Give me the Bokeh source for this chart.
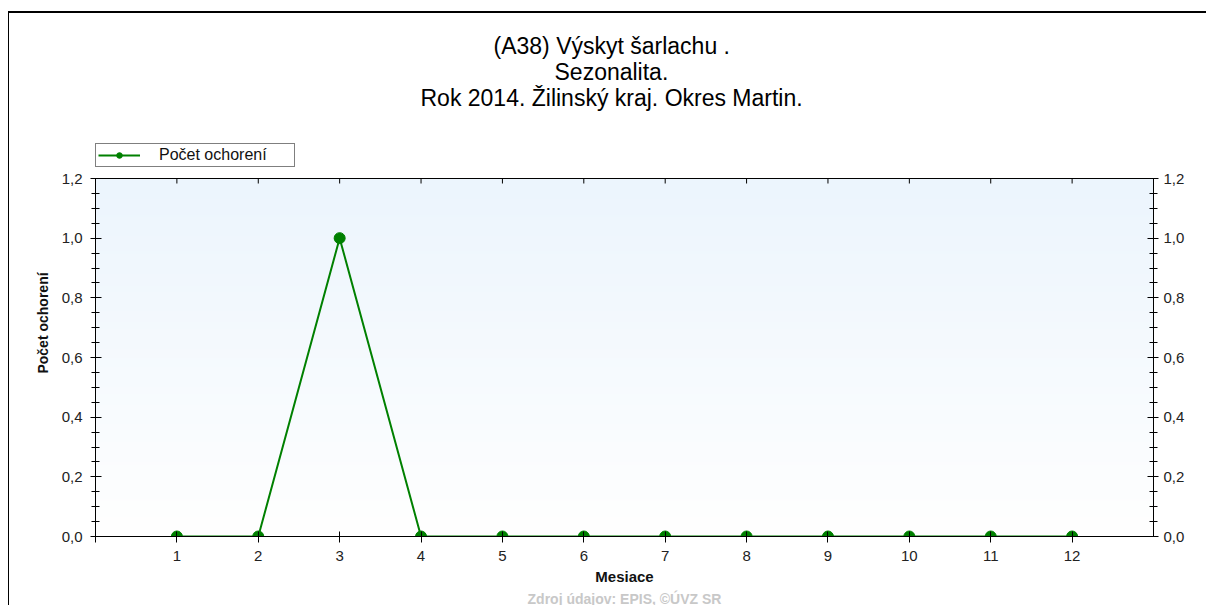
import numpy as np
from bokeh.plotting import figure
from bokeh.models import (LinearAxis, FixedTicker, CustomJSTickFormatter, Title,
                          Legend, LegendItem, Range1d, Span)
from bokeh.embed import file_html
from bokeh.resources import INLINE

# ---------------- data ----------------
months = [1, 2, 3, 4, 5, 6, 7, 8, 9, 10, 11, 12]
cases = [0, 0, 1, 0, 0, 0, 0, 0, 0, 0, 0, 0]
y_ticks = [0.0, 0.2, 0.4, 0.6, 0.8, 1.0, 1.2]
title_lines = ["(A38) Výskyt šarlachu .", "Sezonalita.", "Rok 2014. Žilinský kraj. Okres Martin."]
x_label = "Mesiace"
y_label = "Počet ochorení"
series_name = "Počet ochorení"
source_note = "Zdroj údajov: EPIS, ©ÚVZ SR"

FONT = "Liberation Sans"
GREEN = "#008000"

W, H = 1198, 594
PLOT_H = 358          # pixel height of the 0..1.2 plotting area
EXTRA_TOP = 69        # frame space above the plotting area (holds the legend)
FRAME_H = PLOT_H + EXTRA_TOP
y_lo, y_hi = y_ticks[0], y_ticks[-1]
y_view_end = y_lo + (y_hi - y_lo) * FRAME_H / PLOT_H

p = figure(width=W, height=H, output_backend="svg", toolbar_location=None,
           title=None, title_location=None,
           x_range=Range1d(months[0] - 1, months[-1] + 1),
           y_range=Range1d(y_lo, y_view_end),
           x_axis_location=None, y_axis_location=None,
           min_border_left=86, min_border_right=54,
           min_border_top=H - 71 - FRAME_H, min_border_bottom=71)
p.styles = {"margin-left": "8px", "margin-top": "11px",
            "border-top": "2px solid #000000", "border-left": "1px solid #000000"}
p.background_fill_color = "white"
p.border_fill_color = "white"
p.outline_line_color = None
p.grid.visible = False
p.xgrid.grid_line_color = None
p.ygrid.grid_line_color = None

# background gradient (light blue at top -> white at bottom) over the plotting area
n = 200
img = np.zeros((n, 1), dtype=np.uint32)
view = img.view(dtype=np.uint8).reshape((n, 1, 4))
top_rgb = np.array([236, 245, 253])
bot_rgb = np.array([255, 255, 255])
for i in range(n):
    t = i / (n - 1)
    c = bot_rgb + (top_rgb - bot_rgb) * t
    view[i, 0, 0:3] = c.astype(np.uint8)
    view[i, 0, 3] = 255
p.image_rgba(image=[img], x=p.x_range.start, y=y_lo,
             dw=p.x_range.end - p.x_range.start, dh=y_hi - y_lo)

# top edge of the plotting area with inward tick marks at the months
p.add_layout(Span(location=y_hi, dimension="width", line_color="black", line_width=1))
tick_len = 5 * (y_hi - y_lo) / PLOT_H
p.segment(x0=months, y0=[y_hi] * len(months), x1=months,
          y1=[y_hi - tick_len] * len(months), line_color="black", line_width=1)

# data
line_r = p.line(months, cases, line_color=GREEN, line_width=2)
pts_r = p.scatter(months, cases, size=11, fill_color=GREEN, line_color=GREEN)

# axes
ylab_fmt = CustomJSTickFormatter(code="return tick.toFixed(1).replace('.', ',');")
minor = [round(y_lo + 0.05 * k, 2) for k in range(int(round((y_hi - y_lo) / 0.05)) + 1)]
minor = [m for m in minor if all(abs(m - t) > 1e-9 for t in y_ticks)]


def style_axis(ax):
    ax.axis_line_color = "black"
    ax.axis_line_width = 1
    ax.major_tick_line_color = "black"
    ax.minor_tick_line_color = "black"
    ax.major_label_text_font = FONT
    ax.major_label_text_font_size = "15px"
    ax.major_label_text_color = "#222222"
    ax.axis_label_text_font = FONT
    ax.axis_label_text_font_style = "bold"
    ax.axis_label_text_color = "#111111"


yl = LinearAxis(ticker=FixedTicker(ticks=y_ticks, minor_ticks=minor), formatter=ylab_fmt,
                axis_label=y_label, bounds=(y_lo, y_hi))
style_axis(yl)
yl.major_tick_in = 6
yl.major_tick_out = 5
yl.minor_tick_in = 4
yl.minor_tick_out = 4
yl.major_label_standoff = 8
yl.axis_label_standoff = 8
yl.axis_label_text_font_size = "14px"
p.add_layout(yl, "left")

yr = LinearAxis(ticker=FixedTicker(ticks=y_ticks, minor_ticks=minor), formatter=ylab_fmt,
                bounds=(y_lo, y_hi))
style_axis(yr)
yr.major_tick_in = 6
yr.major_tick_out = 5
yr.minor_tick_in = 4
yr.minor_tick_out = 4
yr.major_label_standoff = 5
p.add_layout(yr, "right")

xfmt = CustomJSTickFormatter(args=dict(first=months[0], last=months[-1]),
                             code="return (tick >= first && tick <= last) ? String(tick) : '';")
xb = LinearAxis(ticker=FixedTicker(ticks=[months[0] - 1] + months, minor_ticks=[]),
                formatter=xfmt, axis_label=x_label)
style_axis(xb)
xb.major_tick_in = 5
xb.major_tick_out = 6
xb.minor_tick_in = 0
xb.minor_tick_out = 0
xb.major_label_standoff = 8
xb.axis_label_standoff = 4
xb.axis_label_text_font_size = "15px"
p.add_layout(xb, "below")

# legend inside the frame, just above the plotting area (bottom edge 11px above it)
legend = Legend(items=[LegendItem(label=series_name, renderers=[line_r, pts_r])],
                location=(0, PLOT_H + 11))
legend.border_line_color = "black"
legend.border_line_width = 1
legend.background_fill_color = "white"
legend.background_fill_alpha = 1
legend.padding = 2
legend.margin = 0
legend.spacing = 0
legend.glyph_width = 42
legend.glyph_height = 14
legend.label_height = 14
legend.label_width = 133
legend.label_standoff = 19
legend.label_text_font = FONT
legend.label_text_font_size = "16px"
legend.label_text_color = "#111111"
p.add_layout(legend)

# titles, added from the frame outward (left-aligned with offsets that centre them at x~611)
for txt, off in zip(title_lines[::-1], [325, 459, 398]):
    p.add_layout(Title(text=txt, align="left", offset=off, standoff=-2,
                       text_font=FONT, text_font_size="23px", text_font_style="normal",
                       text_color="#000000"), "above")

p.add_layout(Title(text=source_note, align="center", standoff=2,
                   text_font=FONT, text_font_size="14px", text_font_style="bold",
                   text_color="#c8c8c8"), "below")

open("out.html", "w").write(file_html(p, INLINE))
